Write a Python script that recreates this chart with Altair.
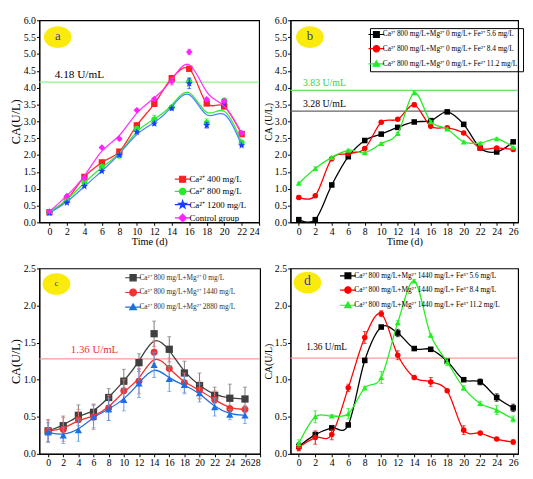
import math
import altair as alt
import pandas as pd

FONT = "Liberation Serif"

# ---------------- data ----------------
days_a = [0, 2, 4, 6, 8, 10, 12, 14, 16, 18, 20, 22]
names_a = ["Ca²⁺ 400 mg/L", "Ca²⁺ 800 mg/L", "Ca²⁺ 1200 mg/L", "Control group"]
vals_a = [
    [0.30, 0.68, 1.35, 1.78, 2.10, 2.88, 3.52, 4.28, 4.56, 3.53, 3.44, 2.62],
    [0.30, 0.65, 1.18, 1.65, 1.98, 2.78, 3.05, 3.42, 4.18, 2.95, 3.62, 2.37],
    [0.28, 0.58, 1.07, 1.52, 2.00, 2.68, 2.93, 3.38, 4.12, 2.88, 3.52, 2.28],
    [0.32, 0.78, 1.32, 2.22, 2.48, 3.33, 3.66, 4.18, 5.06, 3.65, 3.60, 2.65],
]
errs_a = [
    [0.05, 0.03, 0.03, 0.03, 0.04, 0.04, 0.04, 0.05, 0.04, 0.04, 0.04, 0.04],
    [0.03, 0.03, 0.03, 0.03, 0.06, 0.04, 0.13, 0.04, 0.12, 0.12, 0.06, 0.03],
    [0.03, 0.03, 0.03, 0.03, 0.03, 0.03, 0.05, 0.04, 0.15, 0.08, 0.04, 0.03],
    [0.03, 0.03, 0.03, 0.03, 0.04, 0.04, 0.04, 0.10, 0.08, 0.05, 0.05, 0.04],
]

days_b = [0, 2, 4, 6, 8, 10, 12, 14, 16, 18, 20, 22, 24, 26]
names_b = [
    "Ca²⁺ 800 mg/L+Mg²⁺ 0 mg/L+ Fe²⁺ 5.6 mg/L",
    "Ca²⁺ 800 mg/L+Mg²⁺ 0 mg/L+ Fe²⁺ 8.4 mg/L",
    "Ca²⁺ 800 mg/L+Mg²⁺ 0 mg/L+ Fe²⁺ 11.2 mg/L",
]
vals_b = [
    [0.08, 0.08, 1.11, 1.95, 2.43, 2.62, 2.82, 2.98, 3.02, 3.28, 2.91, 2.21, 2.09, 2.39],
    [0.74, 0.79, 1.89, 2.04, 2.19, 2.97, 3.06, 3.49, 2.85, 2.81, 2.65, 2.20, 2.21, 2.16],
    [1.16, 1.60, 1.93, 2.14, 2.07, 2.34, 2.64, 3.85, 2.99, 2.77, 2.39, 2.35, 2.48, 2.23],
]
errs_b = [
    [0.03, 0.03, 0.03, 0.03, 0.03, 0.03, 0.03, 0.03, 0.03, 0.03, 0.03, 0.03, 0.03, 0.03],
    [0.05, 0.04, 0.03, 0.03, 0.03, 0.03, 0.03, 0.06, 0.03, 0.03, 0.03, 0.03, 0.03, 0.03],
    [0.03, 0.05, 0.03, 0.03, 0.03, 0.03, 0.03, 0.04, 0.03, 0.03, 0.03, 0.03, 0.03, 0.03],
]

days_c = [0, 2, 4, 6, 8, 10, 12, 14, 16, 18, 20, 22, 24, 26]
names_c = [
    "Ca²⁺ 800 mg/L+Mg²⁺ 0 mg/L",
    "Ca²⁺ 800 mg/L+Mg²⁺ 1440 mg/L",
    "Ca²⁺ 800 mg/L+Mg²⁺ 2880 mg/L",
]
vals_c = [
    [0.31, 0.38, 0.52, 0.56, 0.76, 0.98, 1.23, 1.62, 1.41, 1.09, 0.92, 0.79, 0.75, 0.74],
    [0.31, 0.33, 0.46, 0.50, 0.62, 0.85, 0.98, 1.37, 1.15, 0.96, 0.86, 0.73, 0.61, 0.60],
    [0.29, 0.25, 0.32, 0.50, 0.60, 0.73, 0.95, 1.20, 1.01, 0.93, 0.82, 0.63, 0.53, 0.52],
]
errs_c = [
    [0.15, 0.13, 0.14, 0.11, 0.12, 0.16, 0.12, 0.17, 0.17, 0.16, 0.17, 0.11, 0.19, 0.16],
    [0.15, 0.16, 0.14, 0.17, 0.17, 0.15, 0.17, 0.15, 0.14, 0.13, 0.12, 0.12, 0.04, 0.05],
    [0.13, 0.11, 0.15, 0.15, 0.15, 0.15, 0.19, 0.17, 0.17, 0.12, 0.12, 0.12, 0.07, 0.11],
]

days_d = [0, 2, 4, 6, 8, 10, 12, 14, 16, 18, 20, 22, 24, 26]
names_d = [
    "Ca²⁺ 800 mg/L+Mg²⁺ 1440 mg/L+ Fe³⁺ 5.6 mg/L",
    "Ca²⁺ 800 mg/L+Mg²⁺ 1440 mg/L+ Fe³⁺ 8.4 mg/L",
    "Ca²⁺ 800 mg/L+Mg²⁺ 1440 mg/L+ Fe³⁺ 11.2 mg/L",
]
vals_d = [
    [0.10, 0.26, 0.35, 0.39, 1.26, 1.71, 1.63, 1.42, 1.41, 1.25, 1.00, 0.97, 0.76, 0.62],
    [0.09, 0.22, 0.26, 0.89, 1.57, 1.89, 1.33, 1.03, 0.97, 0.85, 0.32, 0.28, 0.20, 0.16],
    [0.14, 0.50, 0.51, 0.54, 0.89, 1.03, 1.77, 2.33, 1.60, 1.24, 0.89, 0.68, 0.59, 0.47],
]
errs_d = [
    [0.05, 0.03, 0.02, 0.02, 0.02, 0.02, 0.05, 0.02, 0.02, 0.02, 0.02, 0.04, 0.05, 0.05],
    [0.05, 0.09, 0.07, 0.05, 0.08, 0.04, 0.06, 0.02, 0.06, 0.02, 0.06, 0.02, 0.02, 0.03],
    [0.05, 0.08, 0.02, 0.07, 0.02, 0.08, 0.03, 0.02, 0.02, 0.05, 0.03, 0.03, 0.06, 0.04],
]

# reference levels and their labels
ref_a = [(4.16, "#8cf58c")]
ref_b = [(3.92, "#66e066"), (3.30, "#666666")]
ref_c = [(1.28, "#ff9a9a")]
ref_d = [(1.29, "#ff9a9a")]
notes_a = [(0.6, 4.22, "4.18 U/mL", "black", 11.5)]
notes_b = [(0.5, 3.98, "3.83 U/mL", "#44cc44", 10), (0.5, 3.36, "3.28 U/mL", "black", 10)]
notes_c = [(3.0, 1.33, "1.36 U/mL", "#ee3333", 11)]
notes_d = [(0.9, 1.37, "1.36 U/mL", "black", 9.5)]
badges = {"a": (0.95, 5.5), "b": (1.35, 5.5), "c": (1.1, 2.29), "d": (1.05, 2.31)}

# ---------------- shapes (polygons only) ----------------
STAR = ("M0,-1L0.235,-0.324L0.951,-0.309L0.38,0.124L0.588,0.809L0,0.4"
        "L-0.588,0.809L-0.38,0.124L-0.951,-0.309L-0.235,-0.324Z")


def poly_ellipse(rx, ry, n=28):
    pts = [(rx * math.cos(2 * math.pi * k / n), ry * math.sin(2 * math.pi * k / n))
           for k in range(n)]
    return "M" + "L".join(f"{x:.3f},{y:.3f}" for x, y in pts) + "Z"


ELLIPSE = poly_ellipse(1, 0.78, 36)


def leg_path(kind, h, m):
    line = f"M{-h},0H{h}"
    if kind == "square":
        mk = f"M{-m},{-m}H{m}V{m}H{-m}Z"
    elif kind == "circle":
        mk = poly_ellipse(1.1 * m, 1.1 * m, 14)
    elif kind == "triangle-up":
        mk = f"M0,{-1.1*m}L{1.1*m},{0.8*m}H{-1.1*m}Z"
    elif kind == "diamond":
        mk = f"M0,{-1.3*m}L{1.3*m},0L0,{1.3*m}L{-1.3*m},0Z"
    else:  # star
        pts = STAR[1:-1].split("L")
        mk = "M" + "L".join(
            f"{float(p.split(',')[0])*1.4*m:.3f},{float(p.split(',')[1])*1.4*m:.3f}" for p in pts
        ) + "Z"
    return line + mk


def build_df(days, names, vals, errs):
    rows = []
    for n, v, e in zip(names, vals, errs):
        for d, y, s in zip(days, v, e):
            rows.append({"day": d, "series": n, "ca": y, "lo": y - s, "hi": y + s})
    return pd.DataFrame(rows)


def panel(days, names, vals, errs, colors, line_colors, err_colors, shapes, sizes,
          interps, xdomain, xticks, ydomain, yticks, width, height, ytitle,
          ytitle_size, xtitle, refs, notes, badge, badge_size, legend):
    df = build_df(days, names, vals, errs)
    xs = alt.Scale(domain=xdomain, nice=False, zero=False)
    ys = alt.Scale(domain=ydomain, nice=False, zero=False)
    xaxis = alt.Axis(values=xticks, title=xtitle if xtitle else None, titleFontSize=10.5,
                     labelFontSize=10, format="d")
    yaxis = alt.Axis(values=yticks, format=".1f", title=ytitle, titleFontSize=ytitle_size,
                     labelFontSize=10)

    def X(f="day"):
        return alt.X(f"{f}:Q", scale=xs, axis=xaxis)

    def Y(f="ca"):
        return alt.Y(f"{f}:Q", scale=ys, axis=yaxis)

    layers = []
    for val, col in refs:
        layers.append(
            alt.Chart(pd.DataFrame({"ca": [val]})).mark_rule(color=col, strokeWidth=1.3)
            .encode(y=Y())
        )
    for xd, yd, txt, col, fs in notes:
        layers.append(
            alt.Chart(pd.DataFrame({"day": [xd], "ca": [yd], "t": [txt]}))
            .mark_text(align="left", baseline="bottom", font=FONT, fontSize=fs, color=col)
            .encode(x=X(), y=Y(), text="t:N")
        )
    bdf = pd.DataFrame({"day": [badges[badge][0]], "ca": [badges[badge][1]], "t": [badge]})
    layers.append(
        alt.Chart(bdf).mark_point(shape=ELLIPSE, filled=True, color="#fbeb0c", opacity=1,
                                  size=800)
        .encode(x=X(), y=Y())
    )
    layers.append(
        alt.Chart(bdf).mark_text(font=FONT, fontSize=badge_size, color="#34437a",
                                 baseline="middle", dy=-1)
        .encode(x=X(), y=Y(), text="t:N")
    )
    for n, c, lc, ec, sh, sz, ip in zip(names, colors, line_colors, err_colors, shapes,
                                        sizes, interps):
        base = alt.Chart(df).transform_filter(alt.datum.series == n)
        layers.append(base.mark_line(color=lc, strokeWidth=1.3, interpolate=ip, clip=True)
                      .encode(x=X(), y=Y()))
        layers.append(base.mark_rule(color=ec, strokeWidth=1)
                      .encode(x=X(), y=Y("lo"), y2="hi:Q"))
        for f in ("lo", "hi"):
            layers.append(base.mark_tick(orient="horizontal", size=4, thickness=1, color=ec)
                          .encode(x=X(), y=Y(f)))
        layers.append(base.mark_point(shape=STAR if sh == "star" else sh, filled=True,
                                      color=c, size=sz, opacity=1)
                      .encode(x=X(), y=Y()))
    # legend layer (no marks, scales only)
    leg = alt.Legend(title=None, **legend["props"])
    lpaths = [leg_path(s, legend["half"], legend["m"]) for s in shapes]
    layers.append(
        alt.Chart(df).transform_filter("false").mark_point(filled=True, opacity=1)
        .encode(
            x=X(), y=Y(),
            fill=alt.Fill("series:N", scale=alt.Scale(domain=names, range=colors), legend=leg),
            stroke=alt.Stroke("series:N", scale=alt.Scale(domain=names, range=colors), legend=leg),
            shape=alt.Shape("series:N", scale=alt.Scale(domain=names, range=lpaths), legend=leg),
        )
    )
    return alt.layer(*layers).properties(width=width, height=height)


yt6 = [i * 0.5 for i in range(13)]
yt25 = [i * 0.5 for i in range(6)]

pa = panel(days_a, names_a, vals_a, errs_a,
           ["#ff1f1f", "#22ee22", "#1a3cff", "#ff22ff"],
           ["#ff2a2a", "#33ee33", "#4a88ff", "#ff33ff"],
           ["#ff3030", "#22dd22", "#2040e0", "#ff33ff"],
           ["square", "circle", "star", "diamond"], [42, 38, 60, 45],
           ["cardinal", "basis", "basis", "basis"],
           [-1.15, 24], list(range(0, 25, 2)), [0, 6], yt6, 224, 206,
           "CA(U/L)", 12.5, "Time (d)", ref_a, notes_a, "a", 13,
           {"half": 2.0, "m": 0.75,
            "props": dict(orient="none", legendX=141, legendY=157, labelFont=FONT,
                          labelFontSize=9, symbolSize=64, symbolStrokeWidth=1.2,
                          rowPadding=0.5, labelOffset=2, padding=0)})

pb = panel(days_b, names_b, vals_b, errs_b,
           ["#000000", "#ff0000", "#22ee22"],
           ["#000000", "#ff0000", "#22ee22"],
           ["#000000", "#ff0000", "#22ee22"],
           ["square", "circle", "triangle-up"], [32, 32, 36],
           ["cardinal", "cardinal", "cardinal"],
           [-1, 26.6], list(range(0, 27, 2)), [0, 6], yt6, 232, 206,
           "CA (U/L)", 10, "Time (d)", ref_b, notes_b, "b", 13,
           {"half": 2.3, "m": 0.85,
            "props": dict(orient="none", legendX=81, legendY=8, labelFont=FONT,
                          labelFontSize=7.5, symbolSize=49, symbolStrokeWidth=1.2,
                          rowPadding=2.5, labelOffset=2, padding=2, strokeColor="black")})

pc = panel(days_c, names_c, vals_c, errs_c,
           ["#404040", "#ee3333", "#1f6fe0"],
           ["#404040", "#ee3333", "#1f6fe0"],
           ["#7a7a7a", "#f07878", "#5a9ae8"],
           ["square", "circle", "triangle-up"], [55, 50, 55],
           ["basis", "basis", "basis"],
           [-1.15, 28], list(range(0, 29, 2)), [0, 2.5], yt25, 225, 189,
           "CA(U/L)", 12.5, None, ref_c, notes_c, "c", 9,
           {"half": 2.3, "m": 0.9,
            "props": dict(orient="none", legendX=91, legendY=5, labelFont=FONT,
                          labelFontSize=7.5, symbolSize=49, symbolStrokeWidth=1.2,
                          rowPadding=2, labelOffset=2, padding=0, labelColor="#333333")})

pd_ = panel(days_d, names_d, vals_d, errs_d,
            ["#000000", "#ff0000", "#22ee22"],
            ["#000000", "#ff0000", "#22ee22"],
            ["#000000", "#ff0000", "#22ee22"],
            ["square", "circle", "triangle-up"], [32, 32, 36],
            ["cardinal", "cardinal", "cardinal"],
            [-1, 26.6], list(range(0, 27, 2)), [0, 2.5], yt25, 232, 189,
            "CA(U/L)", 10, None, ref_d, notes_d, "d", 14,
            {"half": 2.3, "m": 0.85,
             "props": dict(orient="none", legendX=54, legendY=3, labelFont=FONT,
                           labelFontSize=7.5, symbolSize=49, symbolStrokeWidth=1.2,
                           rowPadding=2.5, labelOffset=2, padding=0)})

chart = (
    alt.concat(pa, pb, pc, pd_, columns=2, spacing=alt.RowColnumber(row=47, column=31),
               bounds="flush", align="each")
    .resolve_scale(fill="independent", stroke="independent", shape="independent")
    .properties(padding={"left": 0, "top": 2, "right": 0, "bottom": 0}, background="white")
    .configure_view(stroke="black", strokeWidth=1.2)
    .configure_axis(labelFont=FONT, titleFont=FONT, labelColor="black", titleColor="black",
                    domainColor="black", tickColor="black", tickSize=3, grid=False,
                    titleFontWeight="normal", labelPadding=1, titlePadding=1)
    .configure_legend(labelFont=FONT)
)

chart.save("out.html", embed_options={"renderer": "svg", "actions": False})
